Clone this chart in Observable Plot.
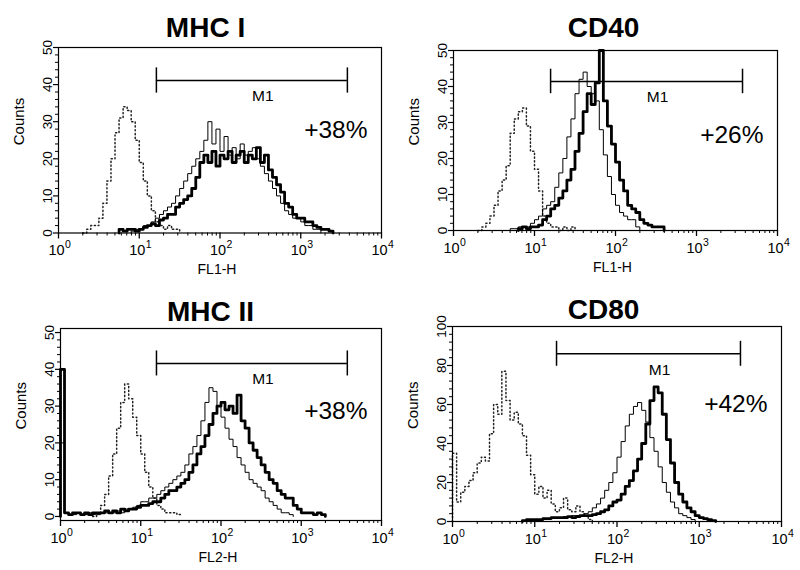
<!DOCTYPE html>
<html><head><meta charset="utf-8">
<script src="https://cdn.jsdelivr.net/npm/d3@7"></script>
<script src="https://cdn.jsdelivr.net/npm/@observablehq/plot@0.6"></script>
<style>
body{margin:0;background:#fff;}
#chart{position:relative;width:800px;height:570px;overflow:hidden;background:#fff;}
.panel{position:absolute;width:400px;height:285px;}
.panel svg{display:block;overflow:visible;}
</style></head><body><div id="chart"></div>
<script>
// ---- labels ----
const panelTitles = ["MHC I", "CD40", "MHC II", "CD80"];
const axisTitles = ["FL1-H", "FL1-H", "FL2-H", "FL2-H"];
const percentLabels = ["+38%", "+26%", "+38%", "+42%"];
const gateLabel = "M1";
const yLabel = "Counts";

// ---- axes ----
const decadeTicks = [1, 10, 100, 1000, 10000];
const decadeExponents = ["0", "1", "2", "3", "4"];
const yMajorSmall = [0, 10, 20, 30, 40, 50];
const yMajorLarge = [0, 20, 40, 60, 80, 100];

// ---- M1 gate (low, high, level) per panel ----
const gateLow = [16.3, 15.8, 15.7, 18.4];
const gateHigh = [3780, 3700, 3750, 3170];
const gateLevel = [41.1, 41.4, 41.6, 86];

// ---- histograms: counts per channel bin (0.05 decade), first bin decade ----
const binWidth = 0.05;
const mhc1Starts = [0.30, 0.90, 0.75]; // dotted, thin, thick
const mhc1Dotted = [0,1,2,2,4,8,14,20,27,31,34,33,30,25,19,14,10,6,3,2,1,2,1,1,0];
const mhc1Thin = [0.5,1,1,2,2,3,4,5,6,7,8,10,12,14,16,18,20,22,25,30,24,28,22,26,21,23,20,24,21,22,23,20,18,16,14,12,10,8,6,5,4,4,3,2,2,1,1,0];
const mhc1Thick = [1,0.5,1,1,0.5,1,1.5,2,2.5,2,3.5,4,5,5,7,8,9,10,12,15,19,21,19,22,18,21,20,22,19,21,22,19,21,20,23,19,21,17,15,13,11,8,7,5,4,4,3,3,2,1.5,1,1,0.5,0];

const cd40Starts = [0.30, 0.70, 0.80];
const cd40Dotted = [0,1,2,4,7,11,14,18,27,31,33,34,29,22,17,11,4,2,1,1,0,1,0,1,0];
const cd40Thin = [0.5,0.5,1,1,1,2,3,4,6,7,8,12,16,20,26,31,38,42,44,40,38,36,28,21,15,10,7,5,4,3,3,1,0];
const cd40Thick = [0.5,1,0.5,1,1,1.5,3,4,6,7,9,11,14,17,22,27,33,38,35,41,50,36,29,24,19,14,11,7,6,5,3,2,1.5,1,1,1,0];

const mhc2Starts = [0.40, 0.00, 0.00];
const mhc2Dotted = [0,1,3,6,11,17,24,31,36,32,27,22,17,12,8,5,3,2,1,1,1,0.5,0];
const mhc2Thin = [20,1,0.5,0.5,1,0.5,0.5,1,0.5,0.5,1,1,1,1,1.5,1,2,2,2.5,3,4,4,5,5,6,7,8,9,10,11,12,14,17,19,22,26,31,35,34,30,27,24,21,19,16,14,12,10,9,8,7,5,4,3,2,1,1,0.5,0];
const mhc2Thick = [40,1,0.5,1,1,0.5,1,0.5,1,1,1,1.5,1,1.5,1,2,1.5,2,2,2.5,3,3,3.5,4,4,5,6,7,7,8,9,10,12,14,17,19,22,25,28,30,31,29,30,28,33,26,24,20,18,16,14,12,10,9,7,6,5,5,3,2,1,1,1,0.5,1,0.5,0];

const cd80Starts = [0.00, 0.90, 0.85];
const cd80Dotted = [35,10,15,18,21,25,30,33,31,45,60,55,77,62,52,56,50,44,34,24,14,18,12,16,9,5,7,12,6,5,8,5,3,1,0];
const cd80Thin = [0.5,1,1,1,1.5,1.5,2,2,2,2.5,2.5,3,3,3,4,5,7,9,12,16,20,25,33,41,49,55,59,61,57,51,43,36,28,20,15,10,7,4,3,2,1,0];
const cd80Thick = [0.5,1,1,1,1,1.5,1.5,2,2,2,2,2.5,2,2.5,3,3,3,3.5,4,5,6,8,10,11,14,18,21,26,32,40,50,62,69,66,55,42,30,20,14,10,7,5,3,2,1.5,1,0.5,0];

// ---- build step series rows from channel counts ----
function rows(start, counts) {
  const out = [{x: 10 ** start, y: 0}];
  counts.forEach((c, i) => out.push({x: 10 ** (start + i * binWidth), y: c}));
  return out;
}
const curves = [
  [mhc1Starts, mhc1Dotted, mhc1Thin, mhc1Thick],
  [cd40Starts, cd40Dotted, cd40Thin, cd40Thick],
  [mhc2Starts, mhc2Dotted, mhc2Thin, mhc2Thick],
  [cd80Starts, cd80Dotted, cd80Thin, cd80Thick]
];

const minorX = [];
for (const d of [1, 10, 100, 1000]) for (let k = 2; k <= 9; k++) minorX.push(d * k);

// ---- layout (page geometry) ----
const layout = [
  {left: 0,   top: 0,   ml: 58, mr: 19, mt: 47, mb: 52.5, ydom: [0, 50],  yMajor: yMajorSmall, minorStep: 2, tdx: -14.5, tdy: -11, pdy: 83, gh: 3.4},
  {left: 400, top: 0,   ml: 53, mr: 23, mt: 50, mb: 55,   ydom: [0, 50],  yMajor: yMajorSmall, minorStep: 2, tdx: -12,   tdy: -14, pdy: 85, gh: 3.4},
  {left: 0,   top: 285, ml: 60, mr: 19, mt: 43, mb: 50,   ydom: [-1.1, 51.1], yMajor: yMajorSmall, minorStep: 2, tdx: -10.5, tdy: -8, pdy: 83, gh: 3.4},
  {left: 400, top: 285, ml: 52, mr: 19, mt: 41, mb: 49,   ydom: [0, 100], yMajor: yMajorLarge, minorStep: 4, tdx: -13.5, tdy: -8, pdy: 78, gh: 6.4}
];

const chart = document.getElementById("chart");
const line = {x: "x", y: "y", curve: "step-after", stroke: "black"};

layout.forEach((L, i) => {
  const [starts, dotted, thin, thick] = curves[i];
  const yMinor = [];
  for (let v = 0; v <= L.yMajor[L.yMajor.length - 1]; v += L.minorStep) if (!L.yMajor.includes(v)) yMinor.push(v);
  const lo = gateLow[i], hi = gateHigh[i], lv = gateLevel[i];
  const plot = Plot.plot({
    width: 400, height: 285,
    marginLeft: L.ml, marginRight: L.mr, marginTop: L.mt, marginBottom: L.mb,
    x: {type: "log", domain: [1, 10000], axis: null, label: null},
    y: {domain: L.ydom, axis: null, label: null},
    style: {fontFamily: "'Liberation Sans', Arial, Helvetica, sans-serif", color: "black", background: "white", overflow: "visible"},
    marks: [
      Plot.line(rows(starts[0], dotted), {...line, stroke: "#222", strokeWidth: 1.5, strokeDasharray: "1.2,2.6"}),
      Plot.line(rows(starts[1], thin), {...line, strokeWidth: 1}),
      Plot.line(rows(starts[2], thick), {...line, strokeWidth: 2.8}),
      Plot.frame({stroke: "black", strokeWidth: 1.2}),
      Plot.axisX({ticks: decadeTicks, tickSize: 6, tickFormat: () => "", label: null, strokeWidth: 1.3}),
      Plot.axisX({ticks: minorX, tickSize: 3, tickFormat: () => "", label: null}),
      Plot.axisY({ticks: L.yMajor, tickSize: 5, tickFormat: () => "", label: null, strokeWidth: 1.2}),
      Plot.axisY({ticks: yMinor, tickSize: 3, tickFormat: () => "", label: null}),
      Plot.text(decadeTicks, {x: d => d, frameAnchor: "bottom", text: () => "10", dy: 22, dx: -2, lineAnchor: "bottom", fontSize: 14.5}),
      Plot.text(decadeTicks, {x: d => d, frameAnchor: "bottom", text: (d, j) => decadeExponents[j], dy: 15, dx: 6.5, textAnchor: "start", lineAnchor: "bottom", fontSize: 10.5}),
      Plot.text(L.yMajor, {y: d => d, frameAnchor: "left", text: d => String(d), rotate: -90, dx: -10.5, textAnchor: "middle", lineAnchor: "middle", fontSize: 13.5}),
      Plot.text([axisTitles[i]], {frameAnchor: "bottom", text: d => d, dy: 41, dx: -3, lineAnchor: "bottom", fontSize: 14}),
      Plot.text([yLabel], {frameAnchor: "left", text: d => d, rotate: -90, dx: -39, dy: 5, lineAnchor: "middle", fontSize: 15}),
      Plot.text([panelTitles[i]], {frameAnchor: "top", text: d => d, dx: L.tdx, dy: L.tdy, lineAnchor: "bottom", fontSize: 28, fontWeight: "bold"}),
      Plot.ruleY([lv], {y: d => d, x1: () => lo, x2: () => hi, strokeWidth: 1.5}),
      Plot.ruleX([lo, hi], {x: d => d, y1: () => lv - L.gh, y2: () => lv + L.gh, strokeWidth: 1.5}),
      Plot.text([gateLabel], {x: () => Math.sqrt(lo * hi), y: () => lv, text: d => d, dx: 11, dy: 16, lineAnchor: "middle", fontSize: 15.5}),
      Plot.text([percentLabels[i]], {frameAnchor: "top-right", text: d => d, dx: -14, dy: L.pdy, textAnchor: "end", lineAnchor: "middle", fontSize: 24.5})
    ]
  });
  const div = document.createElement("div");
  div.className = "panel";
  div.style.left = L.left + "px";
  div.style.top = L.top + "px";
  div.appendChild(plot);
  chart.appendChild(div);
});
</script>
</body></html>
